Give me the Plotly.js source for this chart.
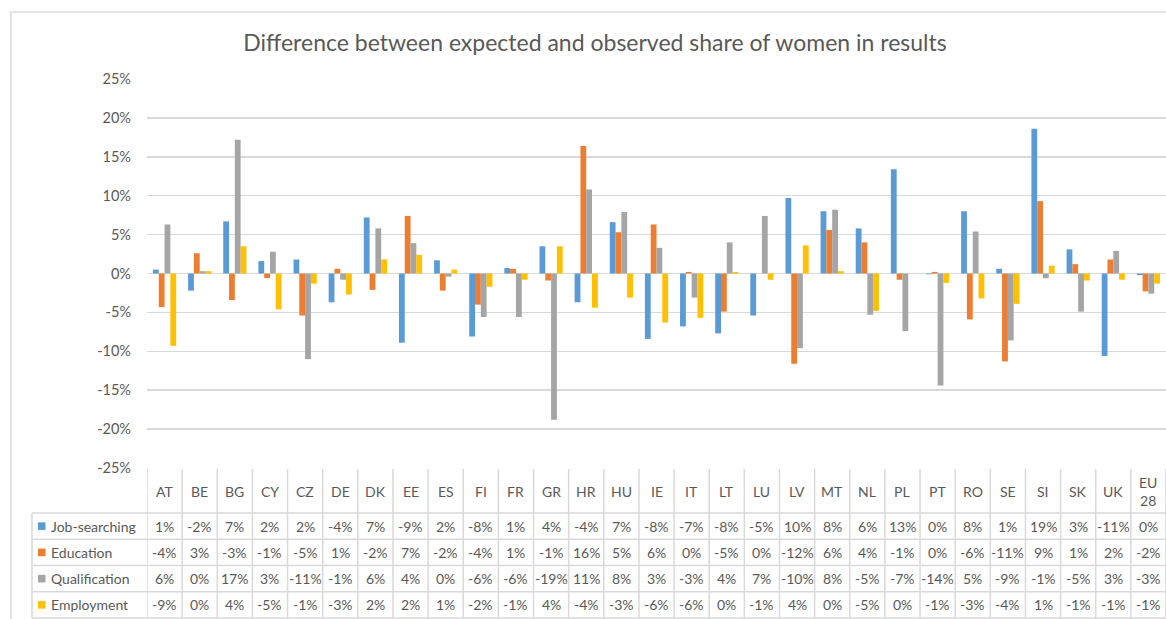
<!DOCTYPE html>
<html>
<head>
<meta charset="utf-8">
<script src="https://cdn.plot.ly/plotly-3.0.1.min.js"></script>
<style>html,body{margin:0;padding:0;background:#fff;}#chart{width:1166px;height:619px;}</style>
</head>
<body>
<div id="chart"></div>
<script>
const categories = ['AT','BE','BG','CY','CZ','DE','DK','EE','ES','FI','FR','GR','HR','HU','IE','IT','LT','LU','LV','MT','NL','PL','PT','RO','SE','SI','SK','UK','EU 28'];
const seriesNames = ['Job-searching','Education','Qualification','Employment'];
const seriesColors = ['#5B9BD5','#ED7D31','#A5A5A5','#FFC000'];
// values in percent
const jobSearching  = [0.5,-2.2,6.7,1.6,1.8,-3.7,7.2,-8.9,1.7,-8.1,0.7,3.5,-3.7,6.6,-8.4,-6.8,-7.7,-5.4,9.7,8.0,5.8,13.4,-0.1,8.0,0.6,18.6,3.1,-10.6,-0.2];
const education     = [-4.3,2.6,-3.4,-0.6,-5.4,0.6,-2.1,7.4,-2.2,-4.0,0.6,-0.9,16.4,5.3,6.3,0.2,-4.9,0.0,-11.6,5.6,4.0,-0.8,0.2,-5.9,-11.3,9.3,1.2,1.8,-2.3];
const qualification = [6.3,0.3,17.2,2.8,-11.0,-0.8,5.8,3.9,-0.4,-5.6,-5.6,-18.8,10.8,7.9,3.3,-3.1,4.0,7.4,-9.6,8.2,-5.3,-7.4,-14.4,5.4,-8.6,-0.6,-4.9,2.9,-2.6];
const employment    = [-9.3,0.3,3.5,-4.6,-1.3,-2.7,1.8,2.4,0.5,-1.7,-0.8,3.5,-4.4,-3.1,-6.3,-5.7,0.2,-0.8,3.6,0.3,-4.8,0.0,-1.2,-3.2,-3.9,1.0,-0.9,-0.8,-1.3];
const seriesValues = [jobSearching, education, qualification, employment];
const yTickVals = [-25,-20,-15,-10,-5,0,5,10,15,20,25];
const yTickText = yTickVals.map(v => v + '%');

// geometry helpers (pixel -> paper)
const W = 1166, H = 619;
const PL = 147, PR = 1166, PT = 79, PB = 468;
const px2x = p => (p - PL) / (PR - PL);
const py2y = p => (PB - p) / (PB - PT);

const textColor = '#595959';
const lineColor = '#D9D9D9';
const font = 'Lato, "Open Sans", sans-serif';

const traces = seriesNames.map((name, i) => ({
  type: 'bar',
  name: name,
  x: categories,
  y: seriesValues[i],
  marker: {color: seriesColors[i], line: {width: 0}},
  hovertemplate: '%{x}: %{y:.1f}%<extra>' + name + '</extra>'
}));

const shapes = [];
const annotations = [];

// chart outer border
shapes.push({type:'rect', xref:'paper', yref:'paper', x0:px2x(11), x1:px2x(1300), y0:py2y(700), y1:py2y(12),
  line:{color:lineColor, width:1.5}, fillcolor:'rgba(0,0,0,0)', layer:'below'});

// table rows
const headerTop = 469, headerBottom = 513;
const rowH = (618 - headerBottom) / 4;
const rowLines = [headerBottom, headerBottom + rowH, headerBottom + 2*rowH, headerBottom + 3*rowH, 618];
rowLines.forEach(py => shapes.push({type:'line', xref:'paper', yref:'paper', x0:px2x(32), x1:1, y0:py2y(py), y1:py2y(py), line:{color:lineColor, width:1.5}}));
// vertical separators for category columns
for (let i = 0; i <= categories.length; i++) {
  shapes.push({type:'line', xref:'x', yref:'paper', x0:i-0.5, x1:i-0.5, y0:py2y(headerTop), y1:py2y(618), line:{color:lineColor, width:1.5}});
}
// left edge of the legend column
shapes.push({type:'line', xref:'paper', yref:'paper', x0:px2x(32), x1:px2x(32), y0:py2y(headerBottom), y1:py2y(618), line:{color:lineColor, width:1.5}});

// header labels
categories.forEach((c, i) => {
  annotations.push({xref:'x', yref:'paper', x:c, y:py2y((headerTop+headerBottom)/2), text:c.replace(' ', '<br>'),
    showarrow:false, xanchor:'center', yanchor:'middle', font:{family:font, size:14, color:textColor}});
});

// rows
seriesNames.forEach((name, r) => {
  const cy = headerBottom + rowH*(r + 0.5);
  shapes.push({type:'rect', xref:'paper', yref:'paper', x0:px2x(38), x1:px2x(45.5), y0:py2y(cy-3.8), y1:py2y(cy+3.8),
    fillcolor:seriesColors[r], line:{width:0}});
  annotations.push({xref:'paper', yref:'paper', x:px2x(49), y:py2y(cy), text:name, showarrow:false,
    xanchor:'left', yanchor:'middle', font:{family:font, size:14, color:textColor}});
  seriesValues[r].forEach((v, i) => {
    const rv = Math.round(v);
    annotations.push({xref:'x', yref:'paper', x:categories[i], y:py2y(cy), text:(rv === 0 ? 0 : rv) + '%',
      showarrow:false, xanchor:'center', yanchor:'middle', font:{family:font, size:14, color:textColor}});
  });
});

const layout = {
  width: W, height: H,
  margin: {l: PL, r: W - PR, t: PT, b: H - PB},
  paper_bgcolor: '#ffffff',
  plot_bgcolor: '#ffffff',
  showlegend: false,
  barmode: 'group',
  bargap: 0.34,
  bargroupgap: 0,
  title: {text: 'Difference between expected and observed share of women in results',
    x: 595/W, xref: 'container', xanchor: 'center', y: 1 - 43/H, yref: 'container', yanchor: 'middle',
    font: {family: font, size: 23, color: textColor}},
  xaxis: {type: 'category', showticklabels: false, ticks: '', showgrid: false, zeroline: false, showline: false,
    range: [-0.5, categories.length - 0.5]},
  yaxis: {range: [-25, 25], tickmode: 'array', tickvals: yTickVals, ticktext: yTickText,
    showgrid: true, gridcolor: lineColor, gridwidth: 1.5,
    zeroline: true, zerolinecolor: lineColor, zerolinewidth: 1.5, showline: false, ticks: '',
    ticklabelstandoff: 15, tickfont: {family: font, size: 14.5, color: textColor}},
  shapes: shapes,
  annotations: annotations,
  font: {family: font, color: textColor}
};

Plotly.newPlot('chart', traces, layout, {displayModeBar: false, staticPlot: true});
</script>
</body>
</html>
